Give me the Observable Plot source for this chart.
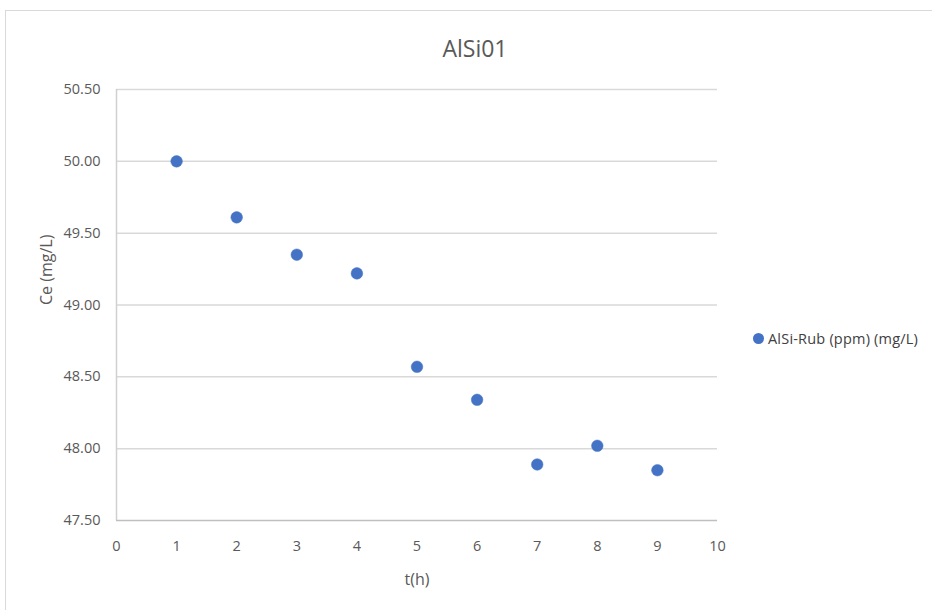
<!DOCTYPE html>
<html>
<head>
<meta charset="utf-8">
<script src="https://cdn.jsdelivr.net/npm/d3@7"></script>
<script src="https://cdn.jsdelivr.net/npm/@observablehq/plot@0.6"></script>
<style>
  html, body { margin: 0; padding: 0; background: #fff; }
  body { width: 932px; height: 610px; position: relative; overflow: hidden; font-family: "Open Sans", sans-serif; }
  #frame { position: absolute; left: 5px; top: 10px; width: 960px; height: 640px; border: 1.5px solid #d9d9d9; box-sizing: border-box; }
  #title { position: absolute; left: 0; width: 950px; top: 32px; text-align: center; font-size: 23px; color: #595959; }
  #legend { position: absolute; left: 753px; top: 329px; font-size: 14.5px; color: #404040; display: flex; align-items: center; white-space: nowrap; letter-spacing: 0.2px; }
  #legend span.dot { display: inline-block; width: 11px; height: 11px; border-radius: 50%; background: #4472C4; margin-right: 4px; }
  #chart { position: absolute; left: 0; top: 0; }
</style>
</head>
<body>
<div id="frame"></div>
<div id="chart"></div>
<div id="title">AlSi01</div>
<div id="legend"><span class="dot"></span>AlSi-Rub (ppm) (mg/L)</div>
<script>
const seriesName = "AlSi-Rub (ppm) (mg/L)";
const tHours = [1, 2, 3, 4, 5, 6, 7, 8, 9];
const ceValues = [50.00, 49.61, 49.35, 49.22, 48.57, 48.34, 47.89, 48.02, 47.85];
const xTicks = [0, 1, 2, 3, 4, 5, 6, 7, 8, 9, 10];
const yTicks = [47.5, 48.0, 48.5, 49.0, 49.5, 50.0, 50.5];

const data = tHours.map((t, i) => ({t, ce: ceValues[i]}));

const plot = Plot.plot({
  width: 932,
  height: 610,
  marginLeft: 116,
  marginRight: 215,
  marginTop: 89,
  marginBottom: 90,
  style: {fontFamily: "Open Sans, sans-serif", fontSize: "14.5px", color: "#595959", background: "transparent"},
  x: {domain: [0, 10], ticks: xTicks, label: null},
  y: {domain: [47.5, 50.5], ticks: yTicks, label: null},
  marks: [
    Plot.ruleY(yTicks.filter(v => v > 47.5), {stroke: "#d9d9d9", strokeWidth: 1.5}),
    Plot.ruleX([0], {stroke: "#d0d0d0", strokeWidth: 1.5}),
    Plot.ruleY([47.5], {stroke: "#bfbfbf", strokeWidth: 1.5}),
    Plot.axisX({ticks: xTicks, tickSize: 0, tickPadding: 20, tickFormat: d => String(d), label: null, fill: "#595959"}),
    Plot.axisY({ticks: yTicks, tickSize: 0, tickPadding: 16, tickFormat: d => d.toFixed(2), label: null, fill: "#595959"}),
    Plot.dot(data, {x: "t", y: "ce", r: 5.8, fill: "#4472C4", stroke: "#4472C4", strokeWidth: 0.5, title: d => seriesName}),
    Plot.text(["t(h)"], {frameAnchor: "bottom", dy: 64, fontSize: 16, fill: "#595959"}),
    Plot.text(["Ce (mg/L)"], {frameAnchor: "left", dx: -70, rotate: -90, fontSize: 16, fill: "#595959"})
  ]
});
document.getElementById("chart").appendChild(plot);
</script>
</body>
</html>
